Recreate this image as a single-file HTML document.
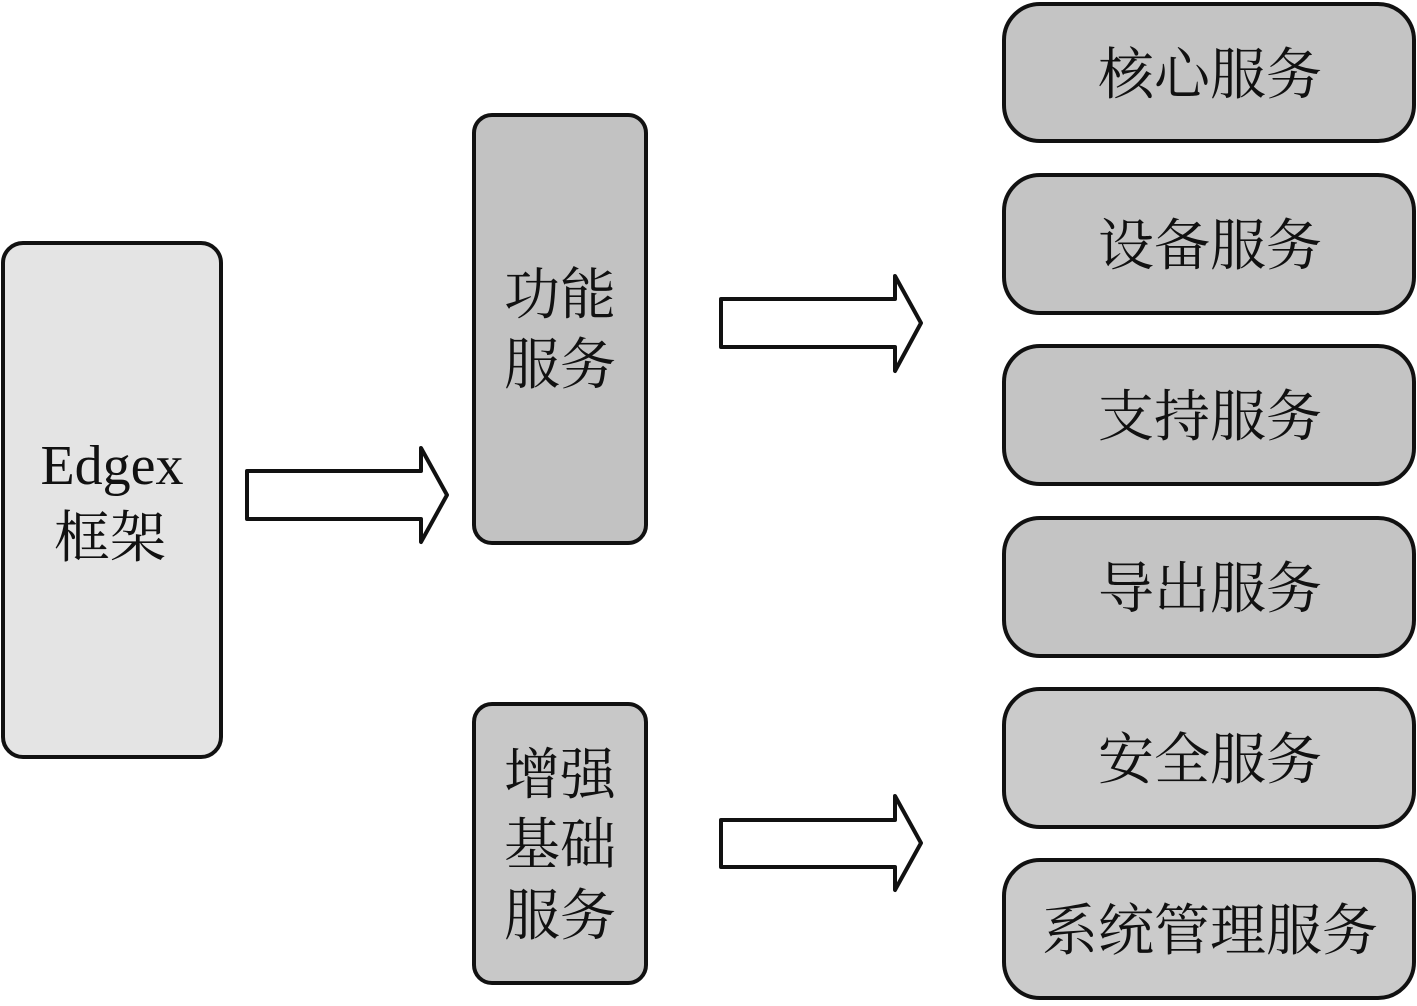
<!DOCTYPE html>
<html><head><meta charset="utf-8"><style>
body{margin:0;background:#fff;}
svg text{font-family:"Liberation Serif","Noto Serif CJK SC",serif;fill:#111;}
</style></head><body>
<svg width="1417" height="1001" viewBox="0 0 1417 1001" xmlns="http://www.w3.org/2000/svg">
<g stroke="#111" stroke-width="4">
<rect x="3" y="243" width="218" height="514" rx="20" fill="#e4e4e4"/>
<rect x="474" y="115" width="172" height="428" rx="18" fill="#c2c2c2"/>
<rect x="474" y="704" width="172" height="279" rx="18" fill="#c8c8c8"/>
<rect x="1004" y="4" width="410" height="137" rx="36" fill="#c4c4c4"/>
<rect x="1004" y="175" width="410" height="138" rx="36" fill="#c4c4c4"/>
<rect x="1004" y="346" width="410" height="138" rx="36" fill="#c4c4c4"/>
<rect x="1004" y="518" width="410" height="138" rx="36" fill="#c4c4c4"/>
<rect x="1004" y="689" width="410" height="138" rx="36" fill="#cbcbcb"/>
<rect x="1004" y="860" width="410" height="138" rx="36" fill="#cbcbcb"/>
<g fill="#fff" stroke-linejoin="round">
<polygon points="247,471 421,471 421,448 447,495 421,542 421,519 247,519"/>
<polygon points="721,299 895,299 895,276 921,323 895,371 895,347 721,347"/>
<polygon points="721,820 895,820 895,796 921,843 895,890 895,867 721,867"/>
</g>
</g>
<g font-size="56" text-anchor="middle">
<text x="112" y="484">Edgex</text>
<text x="110" y="557">框架</text>
<text x="560" y="314">功能</text>
<text x="560" y="384">服务</text>
<text x="560" y="794">增强</text>
<text x="560" y="864">基础</text>
<text x="560" y="935">服务</text>
<text x="1210" y="94">核心服务</text>
<text x="1210" y="265">设备服务</text>
<text x="1210" y="436">支持服务</text>
<text x="1210" y="608">导出服务</text>
<text x="1210" y="779">安全服务</text>
<text x="1210" y="950">系统管理服务</text>
</g>
</svg>
</body></html>
